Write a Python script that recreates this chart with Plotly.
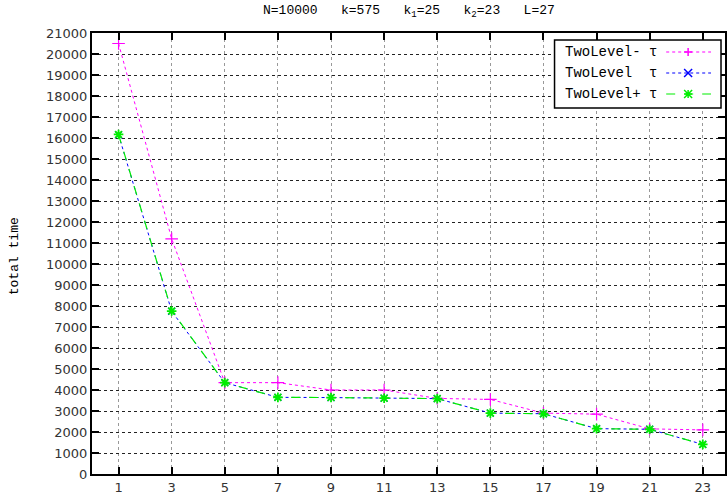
import plotly.graph_objects as go

x_vals = [1, 3, 5, 7, 9, 11, 13, 15, 17, 19, 21, 23]
two_level_minus = [20500, 11200, 4350, 4350, 4000, 4000, 3600, 3550, 2900, 2850, 2150, 2100]
two_level = [16150, 7750, 4350, 3650, 3640, 3610, 3590, 2900, 2870, 2160, 2130, 1410]
two_level_plus = [16170, 7760, 4350, 3650, 3640, 3610, 3590, 2900, 2870, 2160, 2130, 1410]
x_ticks = [1, 3, 5, 7, 9, 11, 13, 15, 17, 19, 21, 23]
y_ticks = list(range(0, 21001, 1000))
legend_names = ["TwoLevel- \u03c4", "TwoLevel  \u03c4", "TwoLevel+ \u03c4"]

MONO = "Liberation Mono, Courier New, monospace"
W, H = 727, 500
L, T, B = 92, 33, 474  # plot area edges in pixels
PW = W - L
PH = B - T

def px(x):  # x in page pixels -> paper
    return (x - L) / PW

def py(y):  # y in page pixels -> paper
    return (B - y) / PH

fig = go.Figure()
fig.add_trace(go.Scatter(x=x_vals, y=two_level_minus, mode="lines+markers",
                         line=dict(color="#ff00ff", dash="dot", width=1),
                         marker=dict(symbol="cross-thin-open", size=9, line=dict(color="#ff00ff", width=1.2)),
                         showlegend=False))
fig.add_trace(go.Scatter(x=x_vals, y=two_level, mode="lines+markers",
                         line=dict(color="#0000ff", dash="dot", width=1),
                         marker=dict(symbol="x-thin-open", size=7, line=dict(color="#0000ff", width=1.2)),
                         showlegend=False))
fig.add_trace(go.Scatter(x=x_vals, y=two_level_plus, mode="lines+markers",
                         line=dict(color="#00ee00", dash="dash", width=1.2),
                         marker=dict(symbol="asterisk-open", size=8, line=dict(color="#00ee00", width=1.8)),
                         showlegend=False))

# custom legend (gnuplot style: text left, sample right)
shapes = [dict(type="rect", xref="paper", yref="paper",
               x0=px(556), x1=px(723), y0=py(108), y1=py(40),
               fillcolor="white", line=dict(color="black", width=1.5), layer="above")]
annotations = []
colors = ["#ff00ff", "#0000ff", "#00ee00"]
dashes = ["dot", "dot", "dash"]
rows = [52, 73, 94]
for i, name in enumerate(legend_names):
    yy = py(rows[i])
    annotations.append(dict(text=name, x=px(564), y=yy, xref="paper", yref="paper",
                            xanchor="left", yanchor="middle", showarrow=False,
                            font=dict(family=MONO, size=14, color="black")))
    shapes.append(dict(type="line", xref="paper", yref="paper",
                       x0=px(668), x1=px(713), y0=yy, y1=yy,
                       line=dict(color=colors[i], dash=dashes[i], width=1.2), layer="above"))
    cx, cy = 690, rows[i]
    s = 4
    if i == 0:
        path = f"M{px(cx-s)},{py(cy)} L{px(cx+s)},{py(cy)} M{px(cx)},{py(cy-s)} L{px(cx)},{py(cy+s)}"
    elif i == 1:
        path = f"M{px(cx-s)},{py(cy-s)} L{px(cx+s)},{py(cy+s)} M{px(cx-s)},{py(cy+s)} L{px(cx+s)},{py(cy-s)}"
    else:
        path = (f"M{px(cx-s)},{py(cy-s)} L{px(cx+s)},{py(cy+s)} M{px(cx-s)},{py(cy+s)} L{px(cx+s)},{py(cy-s)} "
                f"M{px(cx-s)},{py(cy)} L{px(cx+s)},{py(cy)} M{px(cx)},{py(cy-s)} L{px(cx)},{py(cy+s)}")
    shapes.append(dict(type="path", xref="paper", yref="paper", path=path,
                       line=dict(color=colors[i], width=1.5), layer="above"))

annotations.append(dict(text="N=10000   k=575   k<sub>1</sub>=25   k<sub>2</sub>=23   L=27",
                        x=px(410), y=py(11), xref="paper", yref="paper", xanchor="center", yanchor="middle",
                        showarrow=False, font=dict(family=MONO, size=13, color="black")))
annotations.append(dict(text="total time", x=px(14), y=py(256), xref="paper", yref="paper",
                        xanchor="center", yanchor="middle", textangle=-90, showarrow=False,
                        font=dict(family=MONO, size=13, color="black")))

fig.update_layout(
    width=W, height=H,
    margin=dict(l=L, r=0, t=T, b=H - B, pad=0),
    plot_bgcolor="white", paper_bgcolor="white",
    shapes=shapes, annotations=annotations,
    xaxis=dict(range=[0, PW / 26.64], tickvals=x_ticks, ticktext=[str(v) for v in x_ticks],
               showgrid=True, gridcolor="#999999", griddash="dot", gridwidth=1,
               showline=True, linecolor="black", linewidth=2, mirror="ticks",
               ticks="inside", ticklen=7, tickwidth=1.5, tickcolor="black",
               tickfont=dict(family="DejaVu Sans", size=13, color="#333333"),
               zeroline=False),
    yaxis=dict(range=[0, 21000], tickvals=y_ticks, ticktext=[str(v) for v in y_ticks],
               showgrid=True, gridcolor="#222222", griddash="dot", gridwidth=1,
               showline=True, linecolor="black", linewidth=2, mirror="ticks",
               ticks="inside", ticklen=7, tickwidth=1.5, tickcolor="black",
               tickfont=dict(family="DejaVu Sans", size=13, color="#333333"),
               zeroline=False),
)

fig.write_html("out.html", config={"displayModeBar": False},
               post_script="document.body.style.margin='0';document.body.style.overflow='hidden';")
